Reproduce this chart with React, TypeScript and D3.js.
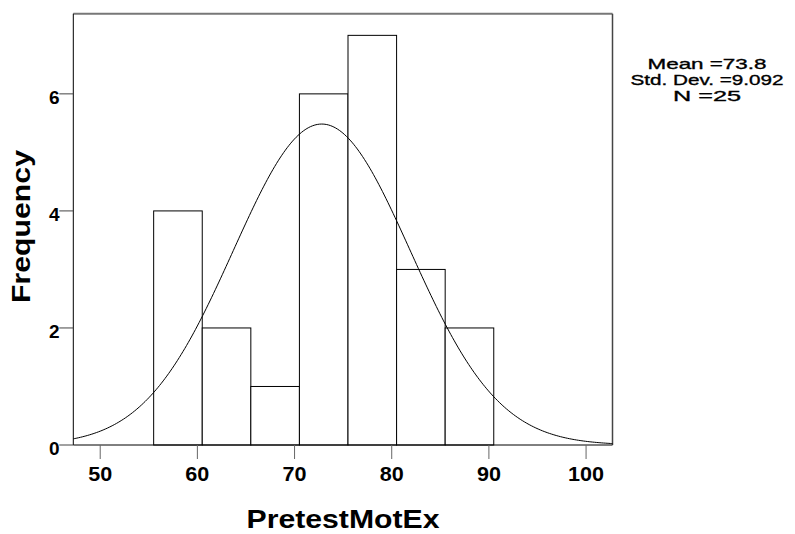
import React from "react";
import * as d3 from "d3";

const binStarts = [55.5, 60.5, 65.5, 70.5, 75.5, 80.5, 85.5];
const binWidth = 5;
const counts = [4, 2, 1, 6, 7, 3, 2];
const xTicks = [50, 60, 70, 80, 90, 100];
const yTicks = [0, 2, 4, 6];
const statLines = ["Mean =73.8", "Std. Dev. =9.092", "N =25"];
const curveMean = 72.8;
const curveSd = 9.092;
const nTotal = 25;

export default function App() {
  const W = 795, H = 534;
  const left = 73.3, right = 612.5, top = 13.7, bottom = 445;
  const x = d3.scaleLinear().domain([47.23, 102.72]).range([left, right]);
  const y = d3.scaleLinear().domain([0, 7.37]).range([bottom, top]);

  const pdf = (v: number) =>
    (nTotal * binWidth) / (curveSd * Math.sqrt(2 * Math.PI)) *
    Math.exp(-0.5 * ((v - curveMean) / curveSd) ** 2);
  const xs = d3.range(0, 301).map((i) => 47.23 + (i / 300) * (102.72 - 47.23));
  const line = d3.line<number>().x((d) => x(d)).y((d) => y(pdf(d))).curve(d3.curveBasis);

  const font = "'Liberation Sans', Arial, sans-serif";
  return (
    <svg width={W} height={H} style={{ position: "absolute", left: 0, top: 0, background: "#fff" }}>
      <rect x={0} y={0} width={W} height={H} fill="#fff" />
      <line x1={left} y1={top} x2={right} y2={top} stroke="#777" strokeWidth={2} />
      <line x1={right} y1={top} x2={right} y2={bottom} stroke="#444" strokeWidth={1.5} />
      {counts.map((c, i) => (
        <rect key={i} x={x(binStarts[i])} y={y(c)} width={x(binStarts[i] + binWidth) - x(binStarts[i])}
          height={bottom - y(c)} fill="#fff" stroke="#000" strokeWidth={1} />
      ))}
      <path d={line(xs) || ""} fill="none" stroke="#000" strokeWidth={1} />
      <line x1={left} y1={top} x2={left} y2={bottom} stroke="#000" strokeWidth={1} />
      <line x1={left} y1={bottom} x2={right} y2={bottom} stroke="#000" strokeWidth={1} />
      {xTicks.map((t) => (
        <g key={t}>
          <line x1={x(t)} x2={x(t)} y1={bottom} y2={bottom + 14} stroke="#666" strokeWidth={1} />
          <text x={x(t)} y={481} textAnchor="middle" fontFamily={font} fontWeight="bold" fontSize={20}
            textLength={t === 100 ? 36 : 24} lengthAdjust="spacingAndGlyphs">{t}</text>
        </g>
      ))}
      {yTicks.map((t) => (
        <g key={t}>
          <line x1={left - 14} x2={left} y1={y(t)} y2={y(t)} stroke="#444" strokeWidth={1} />
          <text x={59.5} y={y(t) + 10} textAnchor="end" fontFamily={font} fontWeight="bold" fontSize={19}>{t}</text>
        </g>
      ))}
      <text x={343} y={528} textAnchor="middle" fontFamily={font} fontWeight="bold" fontSize={26}
        textLength={193} lengthAdjust="spacingAndGlyphs">PretestMotEx</text>
      <text transform="translate(30,226.5) rotate(-90)" textAnchor="middle" fontFamily={font} fontWeight="bold"
        fontSize={26} textLength={153} lengthAdjust="spacingAndGlyphs">Frequency</text>
      {statLines.map((s, i) => (
        <text key={i} x={707} y={69 + i * 16} textAnchor="middle" fontFamily={font} fontSize={15}
          stroke="#000" strokeWidth={0.35}
          textLength={[119, 153, 68][i]} lengthAdjust="spacingAndGlyphs">{s}</text>
      ))}
    </svg>
  );
}
